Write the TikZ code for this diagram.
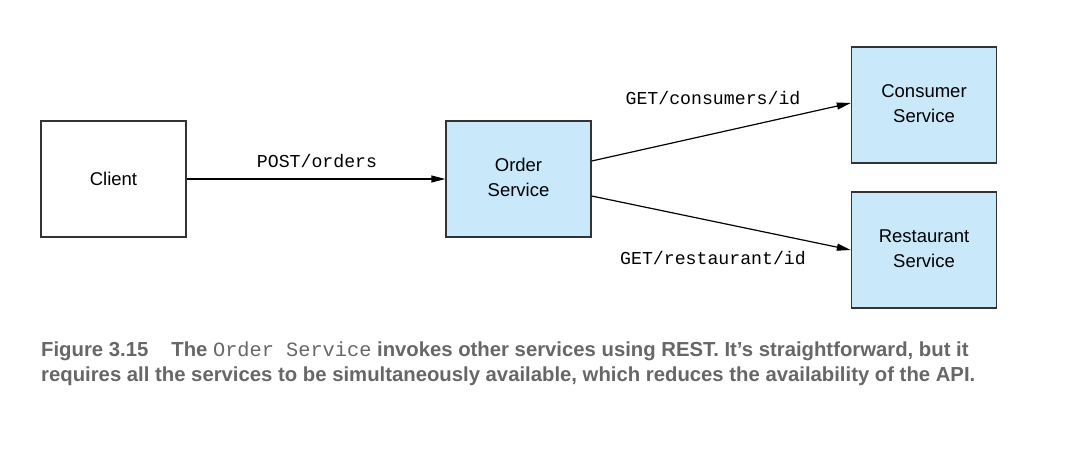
\documentclass[tikz,border=0pt]{standalone}
\usepackage{fontspec}
\setmainfont{Liberation Sans}
\setmonofont{Liberation Mono}
\usetikzlibrary{arrows.meta}
\definecolor{svcblue}{HTML}{C9E8F9}
\definecolor{boxline}{HTML}{333333}
\definecolor{capgray}{HTML}{676767}
\newcommand{\twolines}[2]{\raisebox{2.5pt}{\begin{tabular}{@{}c@{}}#1\\#2\end{tabular}}}
\tikzset{
  box/.style={draw=boxline, line width=1.4pt, minimum width=145pt, minimum height=116pt,
    align=center, font=\fontsize{18.5}{24.5}\selectfont, inner sep=0pt},
  svc/.style={box, fill=svcblue},
  conn/.style={line width=1.2pt, -{Triangle[length=14pt,width=7pt]}},
  lbl/.style={font=\fontsize{18.2}{22}\ttfamily, inner sep=0pt},
  captext/.style={anchor=base west, inner sep=0pt, text=capgray, font=\fontsize{20.3}{25}\selectfont\bfseries}
}
\begin{document}
\begin{tikzpicture}[x=1pt,y=-1pt]
\useasboundingbox (0,0) rectangle (1088,450);
\node[box] (client) at (113.5,179) {Client};
\node[svc] (order) at (518.5,179) {\twolines{Order}{Service}};
\node[svc] (consumer) at (924,105) {\twolines{Consumer}{Service}};
\node[svc] (restaurant) at (924,250) {\twolines{Restaurant}{Service}};
\draw[conn] (client.east) -- (order.west);
\draw[conn] ([yshift=18pt]order.east) -- ([yshift=2pt]consumer.west);
\draw[conn] ([yshift=-17pt]order.east) -- ([yshift=0pt]restaurant.west);
\node[lbl] (l1) at (317,161) {POST/orders};
\node[lbl] (l2) at (713,98) {GET/consumers/id};
\node[lbl] (l3) at (713,258) {GET/restaurant/id};
\node[captext] (c1) at (41,356) {Figure 3.15\hspace{23pt}The {\mdseries\ttfamily Order Service} invokes other services using REST. It’s straightforward, but it};
\node[captext] (c2) at (41,381) {requires all the services to be simultaneously available, which reduces the availability of the API.};
\end{tikzpicture}
\end{document}
